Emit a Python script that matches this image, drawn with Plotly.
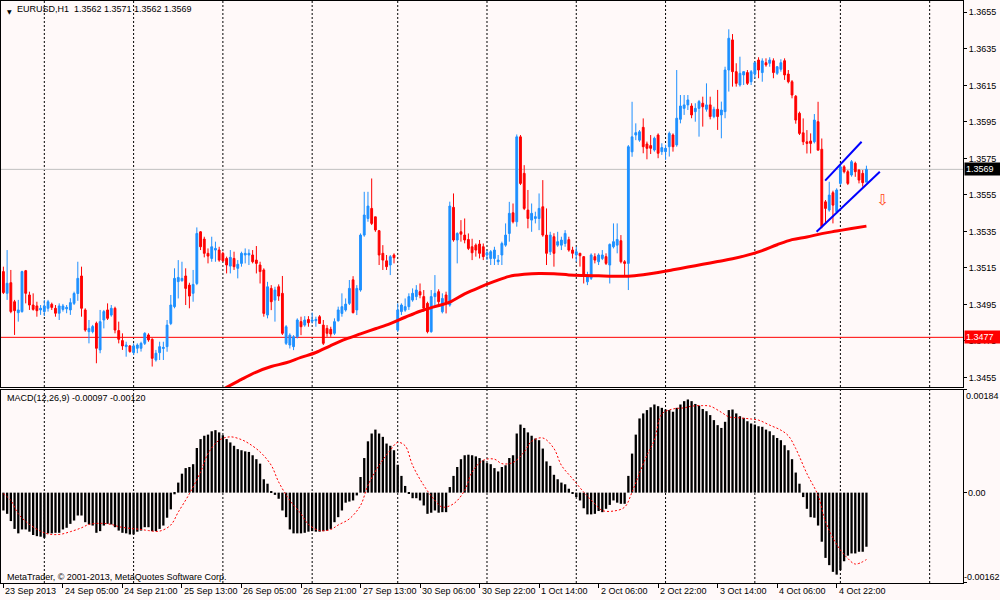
import plotly.graph_objects as go

# ------------------------------------------------------------------ data
bar_index = list(range(233))

open_ = [
    1.35130, 1.35011, 1.35069, 1.34965, 1.34905, 1.34911, 1.35135, 1.35002, 1.34947, 1.34942,
    1.34920, 1.34911, 1.34929, 1.34951, 1.34929, 1.34902, 1.34923, 1.34926, 1.34920, 1.34956,
    1.35010, 1.35106, 1.34920, 1.34801, 1.34801, 1.34847, 1.34701, 1.34865, 1.34920, 1.34892,
    1.34929, 1.34807, 1.34752, 1.34719, 1.34723, 1.34686, 1.34710, 1.34710, 1.34737, 1.34783,
    1.34759, 1.34646, 1.34686, 1.34709, 1.34719, 1.34846, 1.34938, 1.35075, 1.35080, 1.35106,
    1.35056, 1.35011, 1.35065, 1.35348, 1.35308, 1.35230, 1.35202, 1.35248, 1.35248, 1.35230,
    1.35202, 1.35160, 1.35202, 1.35148, 1.35175, 1.35221, 1.35221, 1.35221, 1.35193, 1.35166,
    1.35139, 1.34892, 1.35038, 1.34974, 1.35047, 1.35011, 1.34737, 1.34728, 1.34719, 1.34773,
    1.34856, 1.34837, 1.34868, 1.34858, 1.34861, 1.34883, 1.34837, 1.34819, 1.34814, 1.34792,
    1.34861, 1.34901, 1.34920, 1.34956, 1.35085, 1.34920, 1.35029, 1.35330, 1.35421, 1.35476,
    1.35430, 1.35354, 1.35230, 1.35189, 1.35166, 1.35221, 1.34810, 1.34911, 1.34919, 1.34938,
    1.34974, 1.34993, 1.35020, 1.34993, 1.34956, 1.34801, 1.34993, 1.35020, 1.34910, 1.35002,
    1.34947, 1.35482, 1.35303, 1.35348, 1.35330, 1.35306, 1.35266, 1.35275, 1.35281, 1.35266,
    1.35221, 1.35202, 1.35202, 1.35184, 1.35221, 1.35275, 1.35339, 1.35452, 1.35403, 1.35868,
    1.35668, 1.35467, 1.35412, 1.35421, 1.35421, 1.35485, 1.35330, 1.35239, 1.35321, 1.35275,
    1.35275, 1.35284, 1.35305, 1.35248, 1.35221, 1.35230, 1.35212, 1.35074, 1.35093, 1.35212,
    1.35184, 1.35202, 1.35212, 1.35166, 1.35266, 1.35275, 1.35299, 1.35184, 1.35175, 1.35786,
    1.35878, 1.35850, 1.35920, 1.35829, 1.35820, 1.35796, 1.35878, 1.35787, 1.35787, 1.35814,
    1.35878, 1.35824, 1.35964, 1.36024, 1.36043, 1.36037, 1.36006, 1.36024, 1.36052, 1.36019,
    1.36043, 1.35979, 1.36019, 1.35988, 1.36006, 1.36234, 1.36399, 1.36225, 1.36152, 1.36207,
    1.36220, 1.36170, 1.36212, 1.36289, 1.36220, 1.36274, 1.36271, 1.36285, 1.36216, 1.36238,
    1.36285, 1.36212, 1.36170, 1.36090, 1.35997, 1.35890, 1.35841, 1.35845, 1.35841, 1.35951,
    1.35800, 1.35512, 1.35467, 1.35562, 1.35458, 1.35613, 1.35704, 1.35677, 1.35659, 1.35723,
    1.35686, 1.35668, 1.35620,
]

high_ = [
    1.35157, 1.35248, 1.35139, 1.34975, 1.34975, 1.35135, 1.35139, 1.35020, 1.35011, 1.34965,
    1.34947, 1.34975, 1.34975, 1.34960, 1.34947, 1.34956, 1.34953, 1.34947, 1.34984, 1.35020,
    1.35184, 1.35157, 1.34929, 1.34865, 1.34838, 1.34856, 1.34920, 1.34920, 1.34956, 1.34947,
    1.34938, 1.34856, 1.34792, 1.34746, 1.34728, 1.34737, 1.34737, 1.34746, 1.34798, 1.34792,
    1.34765, 1.34701, 1.34746, 1.34746, 1.34865, 1.35002, 1.35148, 1.35193, 1.35184, 1.35148,
    1.35069, 1.35139, 1.35372, 1.35352, 1.35321, 1.35257, 1.35321, 1.35294, 1.35266, 1.35239,
    1.35212, 1.35248, 1.35239, 1.35193, 1.35239, 1.35257, 1.35252, 1.35248, 1.35270, 1.35184,
    1.35148, 1.35074, 1.35056, 1.35047, 1.35060, 1.35106, 1.34837, 1.34792, 1.34782, 1.34874,
    1.34883, 1.34886, 1.34886, 1.34905, 1.34883, 1.34892, 1.34865, 1.34837, 1.34828, 1.34874,
    1.34938, 1.35011, 1.34983, 1.35084, 1.35105, 1.35056, 1.35339, 1.35567, 1.35567, 1.35640,
    1.35430, 1.35358, 1.35275, 1.35221, 1.35221, 1.35230, 1.34956, 1.34956, 1.34983, 1.35011,
    1.35038, 1.35056, 1.35065, 1.35029, 1.34965, 1.35029, 1.35111, 1.35033, 1.35011, 1.35020,
    1.35513, 1.35558, 1.35345, 1.35412, 1.35421, 1.35339, 1.35310, 1.35284, 1.35303, 1.35284,
    1.35248, 1.35248, 1.35266, 1.35221, 1.35294, 1.35394, 1.35512, 1.35503, 1.35881, 1.35878,
    1.35713, 1.35577, 1.35503, 1.35458, 1.35558, 1.35631, 1.35476, 1.35348, 1.35340, 1.35348,
    1.35321, 1.35357, 1.35321, 1.35266, 1.35266, 1.35233, 1.35215, 1.35129, 1.35230, 1.35230,
    1.35230, 1.35248, 1.35230, 1.35284, 1.35394, 1.35394, 1.35330, 1.35193, 1.35823, 1.36060,
    1.35942, 1.35905, 1.35969, 1.35842, 1.35878, 1.35869, 1.35887, 1.35833, 1.35824, 1.35897,
    1.35887, 1.36234, 1.36097, 1.36097, 1.36097, 1.36052, 1.36052, 1.36070, 1.36088, 1.36161,
    1.36088, 1.36033, 1.36125, 1.36061, 1.36252, 1.36457, 1.36431, 1.36271, 1.36307, 1.36225,
    1.36234, 1.36234, 1.36280, 1.36304, 1.36298, 1.36298, 1.36304, 1.36298, 1.36256, 1.36293,
    1.36298, 1.36234, 1.36179, 1.36097, 1.36006, 1.35969, 1.35905, 1.35887, 1.35993, 1.36060,
    1.35859, 1.35522, 1.35622, 1.35573, 1.35586, 1.35713, 1.35713, 1.35686, 1.35741, 1.35732,
    1.35690, 1.35686, 1.35710,
]

low_ = [
    1.35007, 1.34975, 1.34902, 1.34783, 1.34856, 1.34905, 1.34956, 1.34920, 1.34916, 1.34883,
    1.34893, 1.34887, 1.34911, 1.34920, 1.34883, 1.34865, 1.34911, 1.34902, 1.34893, 1.34947,
    1.34970, 1.34883, 1.34801, 1.34737, 1.34792, 1.34628, 1.34683, 1.34819, 1.34865, 1.34883,
    1.34792, 1.34737, 1.34701, 1.34664, 1.34686, 1.34673, 1.34683, 1.34692, 1.34728, 1.34746,
    1.34610, 1.34637, 1.34646, 1.34646, 1.34691, 1.34837, 1.34929, 1.34983, 1.35075, 1.34947,
    1.34929, 1.34965, 1.35056, 1.35248, 1.35208, 1.35175, 1.35184, 1.35184, 1.35184, 1.35184,
    1.35120, 1.35120, 1.35139, 1.35093, 1.35157, 1.35175, 1.35166, 1.35175, 1.35120, 1.35065,
    1.34883, 1.34874, 1.34919, 1.34856, 1.34970, 1.34783, 1.34728, 1.34709, 1.34700, 1.34764,
    1.34782, 1.34828, 1.34828, 1.34846, 1.34828, 1.34846, 1.34728, 1.34773, 1.34773, 1.34783,
    1.34856, 1.34883, 1.34911, 1.34947, 1.34901, 1.34892, 1.35020, 1.35321, 1.35403, 1.35385,
    1.35348, 1.35166, 1.35139, 1.35139, 1.35111, 1.35175, 1.34800, 1.34892, 1.34910, 1.34920,
    1.34965, 1.34974, 1.34984, 1.34910, 1.34792, 1.34795, 1.34938, 1.34938, 1.34901, 1.34901,
    1.34938, 1.35294, 1.35175, 1.35294, 1.35285, 1.35248, 1.35193, 1.35212, 1.35202, 1.35193,
    1.35193, 1.35166, 1.35166, 1.35166, 1.35166, 1.35266, 1.35294, 1.35394, 1.35376, 1.35604,
    1.35467, 1.35367, 1.35348, 1.35394, 1.35357, 1.35321, 1.35166, 1.35221, 1.35157, 1.35266,
    1.35248, 1.35266, 1.35239, 1.35202, 1.35184, 1.35157, 1.35065, 1.35056, 1.35084, 1.35175,
    1.35166, 1.35193, 1.35166, 1.35065, 1.35257, 1.35230, 1.35175, 1.35111, 1.35029, 1.35759,
    1.35850, 1.35841, 1.35778, 1.35745, 1.35774, 1.35787, 1.35751, 1.35769, 1.35742, 1.35760,
    1.35787, 1.35814, 1.35942, 1.35988, 1.36015, 1.35970, 1.35951, 1.35869, 1.35924, 1.36006,
    1.35964, 1.35970, 1.35906, 1.35860, 1.35970, 1.36116, 1.36143, 1.36143, 1.36143, 1.36152,
    1.36152, 1.36152, 1.36189, 1.36189, 1.36170, 1.36252, 1.36252, 1.36189, 1.36207, 1.36225,
    1.36180, 1.36161, 1.36079, 1.35940, 1.35878, 1.35823, 1.35777, 1.35777, 1.35832, 1.35795,
    1.35367, 1.35394, 1.35458, 1.35394, 1.35449, 1.35604, 1.35668, 1.35604, 1.35650, 1.35649,
    1.35613, 1.35595, 1.35620,
]

close_ = [
    1.35015, 1.35066, 1.34911, 1.34916, 1.34920, 1.35130, 1.35011, 1.34947, 1.34923, 1.34916,
    1.34929, 1.34942, 1.34965, 1.34934, 1.34902, 1.34942, 1.34942, 1.34934, 1.34960, 1.35010,
    1.35093, 1.34929, 1.34810, 1.34819, 1.34829, 1.34710, 1.34856, 1.34911, 1.34874, 1.34929,
    1.34810, 1.34759, 1.34723, 1.34728, 1.34692, 1.34723, 1.34728, 1.34737, 1.34792, 1.34756,
    1.34655, 1.34683, 1.34719, 1.34715, 1.34837, 1.34947, 1.35093, 1.35098, 1.35093, 1.35038,
    1.34996, 1.35060, 1.35339, 1.35266, 1.35230, 1.35215, 1.35266, 1.35257, 1.35193, 1.35189,
    1.35166, 1.35208, 1.35157, 1.35170, 1.35230, 1.35230, 1.35230, 1.35184, 1.35175, 1.35130,
    1.34901, 1.35047, 1.34965, 1.35029, 1.34996, 1.34792, 1.34828, 1.34782, 1.34773, 1.34865,
    1.34828, 1.34865, 1.34850, 1.34865, 1.34868, 1.34846, 1.34737, 1.34792, 1.34788, 1.34856,
    1.34920, 1.34938, 1.34952, 1.35038, 1.34905, 1.35038, 1.35330, 1.35440, 1.35489, 1.35394,
    1.35358, 1.35221, 1.35193, 1.35157, 1.35212, 1.35206, 1.34920, 1.34947, 1.34938, 1.34993,
    1.35011, 1.35029, 1.35002, 1.34929, 1.34801, 1.34993, 1.35011, 1.34965, 1.34983, 1.34956,
    1.35489, 1.35303, 1.35339, 1.35335, 1.35303, 1.35257, 1.35233, 1.35248, 1.35230, 1.35212,
    1.35233, 1.35239, 1.35248, 1.35193, 1.35284, 1.35330, 1.35449, 1.35403, 1.35868, 1.35613,
    1.35476, 1.35421, 1.35449, 1.35431, 1.35476, 1.35330, 1.35230, 1.35330, 1.35230, 1.35294,
    1.35303, 1.35339, 1.35248, 1.35230, 1.35239, 1.35217, 1.35111, 1.35102, 1.35221, 1.35193,
    1.35221, 1.35221, 1.35175, 1.35279, 1.35294, 1.35306, 1.35184, 1.35175, 1.35814, 1.35868,
    1.35891, 1.35896, 1.35814, 1.35805, 1.35805, 1.35860, 1.35778, 1.35809, 1.35805, 1.35887,
    1.35814, 1.35970, 1.36037, 1.36043, 1.36070, 1.35988, 1.36024, 1.36061, 1.36033, 1.36043,
    1.35979, 1.36019, 1.35979, 1.36015, 1.36234, 1.36408, 1.36225, 1.36161, 1.36216, 1.36225,
    1.36161, 1.36225, 1.36274, 1.36234, 1.36284, 1.36262, 1.36289, 1.36220, 1.36252, 1.36274,
    1.36207, 1.36170, 1.36097, 1.35960, 1.35887, 1.35841, 1.35832, 1.35832, 1.35960, 1.35795,
    1.35376, 1.35476, 1.35549, 1.35494, 1.35577, 1.35704, 1.35677, 1.35613, 1.35732, 1.35677,
    1.35631, 1.35617, 1.35690,
]

# moving average (sampled along the bars)
ma_index = [58, 60, 64, 68, 72, 76, 80, 84, 88, 92, 96, 100, 104, 108, 112, 116, 120, 124,
            128, 132, 136, 140, 144, 148, 152, 156, 160, 164, 168, 172, 176, 180, 184, 188,
            192, 196, 200, 204, 208, 212, 216, 220, 224, 228, 232]
ma_value = [1.34475, 1.34496, 1.34540, 1.34580, 1.34610, 1.34631, 1.34660, 1.34687, 1.34725,
            1.34760, 1.34789, 1.34817, 1.34845, 1.34880, 1.34913, 1.34938, 1.34963, 1.35008,
            1.35044, 1.35076, 1.35104, 1.35115, 1.35120, 1.35118, 1.35112, 1.35109, 1.35107,
            1.35105, 1.35105, 1.35113, 1.35125, 1.35140, 1.35155, 1.35170, 1.35185, 1.35200,
            1.35220, 1.35245, 1.35277, 1.35305, 1.35320, 1.35338, 1.35352, 1.35366, 1.35379]

# MACD(12,26,9) histogram, one value per bar
macd_hist = [
    -0.00032, -0.00038, -0.00051, -0.00065, -0.00073, -0.00066, -0.00066, -0.00070, -0.00076, -0.00078,
    -0.00079, -0.00081, -0.00073, -0.00073, -0.00072, -0.00072, -0.00066, -0.00063, -0.00056, -0.00050,
    -0.00041, -0.00041, -0.00053, -0.00057, -0.00059, -0.00072, -0.00069, -0.00059, -0.00056, -0.00057,
    -0.00062, -0.00068, -0.00072, -0.00073, -0.00075, -0.00075, -0.00070, -0.00068, -0.00062, -0.00062,
    -0.00069, -0.00069, -0.00065, -0.00059, -0.00045, -0.00030, -0.00003, 0.00018, 0.00034, 0.00044,
    0.00046, 0.00051, 0.00080, 0.00096, 0.00102, 0.00104, 0.00110, 0.00112, 0.00108, 0.00103,
    0.00096, 0.00090, 0.00084, 0.00078, 0.00076, 0.00074, 0.00073, 0.00067, 0.00060, 0.00052,
    0.00024, 0.00016, 0.00002, -0.00004, -0.00011, -0.00032, -0.00044, -0.00066, -0.00073, -0.00073,
    -0.00073, -0.00072, -0.00070, -0.00069, -0.00070, -0.00070, -0.00069, -0.00068, -0.00065, -0.00053,
    -0.00044, -0.00032, -0.00018, -0.00016, -0.00014, -0.00005, 0.00028, 0.00062, 0.00092, 0.00106,
    0.00113, 0.00106, 0.00100, 0.00088, 0.00084, 0.00076, 0.00050, 0.00030, 0.00012, -0.00002,
    -0.00010, -0.00010, -0.00014, -0.00023, -0.00038, -0.00036, -0.00032, -0.00036, -0.00035, -0.00035,
    0.00010, 0.00030, 0.00046, 0.00060, 0.00067, 0.00068, 0.00067, 0.00065, 0.00062, 0.00058,
    0.00053, 0.00051, 0.00044, 0.00038, 0.00046, 0.00049, 0.00062, 0.00067, 0.00106, 0.00122,
    0.00116, 0.00108, 0.00102, 0.00097, 0.00094, 0.00079, 0.00056, 0.00048, 0.00032, 0.00024,
    0.00018, 0.00015, 0.00007, -0.00002, -0.00008, -0.00014, -0.00028, -0.00039, -0.00039, -0.00038,
    -0.00033, -0.00035, -0.00029, -0.00022, -0.00014, -0.00018, -0.00020, -0.00020, 0.00030, 0.00070,
    0.00104, 0.00133, 0.00142, 0.00148, 0.00153, 0.00158, 0.00155, 0.00152, 0.00149, 0.00148,
    0.00145, 0.00152, 0.00158, 0.00164, 0.00167, 0.00164, 0.00159, 0.00156, 0.00150, 0.00146,
    0.00139, 0.00130, 0.00121, 0.00116, 0.00127, 0.00148, 0.00149, 0.00142, 0.00137, 0.00134,
    0.00128, 0.00124, 0.00122, 0.00119, 0.00118, 0.00113, 0.00110, 0.00103, 0.00098, 0.00094,
    0.00085, 0.00076, 0.00060, 0.00036, 0.00016, -0.00008, -0.00029, -0.00044, -0.00045, -0.00059,
    -0.00088, -0.00117, -0.00130, -0.00142, -0.00147, -0.00139, -0.00123, -0.00113, -0.00109, -0.00109,
    -0.00106, -0.00106, -0.00097,
]

# MACD signal line (sampled)
signal_index = [0, 2, 4, 7, 10, 12, 15, 18, 21, 23, 26, 29, 31, 34, 37, 39, 42, 45, 47, 50,
                53, 55, 58, 61, 64, 66, 69, 72, 74, 77, 80, 82, 85, 88, 90, 93, 96, 98, 101,
                104, 106, 108, 110, 113, 116, 118, 121, 124, 126, 129, 132, 134, 137, 140, 142,
                145, 148, 150, 153, 156, 159, 161, 164, 167, 169, 171, 173, 175, 177, 180, 183,
                185, 188, 190, 193, 195, 198, 201, 203, 206, 209, 211, 213, 216, 219, 221, 224,
                227, 229, 232]
signal_value = [-0.00002, -0.00014, -0.00038, -0.00057, -0.00069, -0.00074, -0.00075, -0.00070,
                -0.00063, -0.00057, -0.00055, -0.00057, -0.00061, -0.00064, -0.00066, -0.00068,
                -0.00069, -0.00058, -0.00035, -0.00002, 0.00037, 0.00070, 0.00094, 0.00100,
                0.00095, 0.00088, 0.00073, 0.00049, 0.00019, -0.00014, -0.00038, -0.00057,
                -0.00068, -0.00066, -0.00058, -0.00047, -0.00023, 0.00013, 0.00049, 0.00076,
                0.00090, 0.00084, 0.00049, 0.00013, -0.00014, -0.00026, -0.00020, 0.00004,
                0.00037, 0.00058, 0.00060, 0.00052, 0.00054, 0.00073, 0.00092, 0.00098, 0.00079,
                0.00049, 0.00025, 0.00001, -0.00020, -0.00032, -0.00033, -0.00026, 0.00001,
                0.00035, 0.00067, 0.00094, 0.00141, 0.00150, 0.00152, 0.00155, 0.00156, 0.00155,
                0.00144, 0.00136, 0.00134, 0.00132, 0.00130, 0.00121, 0.00112, 0.00102, 0.00079,
                0.00034, -0.00005, -0.00052, -0.00093, -0.00118, -0.00128, -0.00120]

# time axis
day_start_index = [11, 35, 59, 83, 106, 130, 154, 178, 202, 225, 249]
time_tick_index = [0, 16, 32, 48, 64, 80, 96, 112, 128, 144, 160, 176, 192, 208, 224]
time_tick_text = ["23 Sep 2013", "24 Sep 05:00", "24 Sep 21:00", "25 Sep 13:00",
                  "26 Sep 05:00", "26 Sep 21:00", "27 Sep 13:00", "30 Sep 06:00",
                  "30 Sep 22:00", "1 Oct 14:00", "2 Oct 06:00", "2 Oct 22:00",
                  "3 Oct 14:00", "4 Oct 06:00", "4 Oct 22:00"]

price_ticks = [1.3455, 1.3475, 1.3495, 1.3515, 1.3535, 1.3555, 1.3575, 1.3595, 1.3615,
               1.3635, 1.3655]
macd_ticks = [0.00184, 0.0, -0.00162]
macd_tick_text = ["0.00184", "0.00", "-0.00162"]

# objects drawn on the chart
channel_upper_index = [220.9, 230.7]
channel_upper_price = [1.35628, 1.35841]
channel_lower_index = [218.6, 235.6]
channel_lower_price = [1.35348, 1.35677]
arrow_index = [236.4]
arrow_price = [1.35513]

bid_price = 1.3569
level_price = 1.3477

header_text = "EURUSD,H1\u00a0\u00a01.3562 1.3571 1.3562 1.3569"
macd_text = "MACD(12,26,9) -0.00097 -0.00120"
copyright_text = "MetaTrader, \u00a9 2001-2013, MetaQuotes Software Corp."

# ------------------------------------------------------------------ style
BG = "#FFF9F9"
BLUE = "#1E90FF"
RED = "#FF0000"
FONT = "Liberation Sans, Arial, sans-serif"
W, H = 1000, 600
ML, MR, MT, MB = 1, 37, 1, 17
X_RANGE = [-0.645, 257.96]
Y_RANGE = [1.34498, 1.36612]
M_RANGE = [-0.00162, 0.00184]
MAIN_DOMAIN = [0.33677, 1.0]
MACD_DOMAIN = [0.0, 0.33162]

fig = go.Figure()

fig.add_trace(go.Candlestick(
    x=bar_index, open=open_, high=high_, low=low_, close=close_,
    increasing=dict(line=dict(color=BLUE, width=1), fillcolor=BLUE),
    decreasing=dict(line=dict(color=RED, width=1), fillcolor=RED),
    whiskerwidth=0, xaxis="x", yaxis="y", hoverinfo="skip", showlegend=False))

fig.add_trace(go.Scatter(
    x=ma_index, y=ma_value, mode="lines", xaxis="x", yaxis="y",
    line=dict(color=RED, width=3, shape="spline"), hoverinfo="skip", showlegend=False))

for xs, ys in ((channel_upper_index, channel_upper_price),
               (channel_lower_index, channel_lower_price)):
    fig.add_trace(go.Scatter(
        x=xs, y=ys, mode="lines", xaxis="x", yaxis="y",
        line=dict(color="#0000FF", width=2), hoverinfo="skip", showlegend=False))

fig.add_trace(go.Scatter(
    x=arrow_index, y=arrow_price, mode="text", text=["\u21e9"], xaxis="x", yaxis="y",
    textfont=dict(family="DejaVu Sans", size=15, color="#FF4A1A"),
    hoverinfo="skip", showlegend=False))

fig.add_trace(go.Bar(
    x=bar_index, y=macd_hist, width=0.62, xaxis="x2", yaxis="y2",
    marker=dict(color="#000000", line=dict(width=0)), hoverinfo="skip", showlegend=False))

fig.add_trace(go.Scatter(
    x=signal_index, y=signal_value, mode="lines", xaxis="x2", yaxis="y2",
    line=dict(color=RED, width=1, dash="2px,2px", shape="spline"),
    hoverinfo="skip", showlegend=False))

axis_common = dict(showgrid=False, zeroline=False, showline=True, mirror=True,
                   linecolor="#000000", linewidth=1)

shapes = []
for d in day_start_index:
    for xr, yr in (("x", "y domain"), ("x2", "y2 domain")):
        shapes.append(dict(type="line", xref=xr, yref=yr, x0=d, x1=d, y0=0, y1=1,
                           line=dict(color="#000000", width=1, dash="2px,2px"), layer="below"))
shapes.append(dict(type="line", xref="x domain", yref="y", x0=0, x1=1, y0=bid_price, y1=bid_price,
                   line=dict(color="#C0C0C0", width=1), layer="below"))
shapes.append(dict(type="line", xref="x domain", yref="y", x0=0, x1=1, y0=level_price,
                   y1=level_price, line=dict(color=RED, width=1), layer="below"))

small = dict(family=FONT, size=9, color="#000000")
annotations = [
    dict(xref="paper", yref="paper", x=0, y=1, xanchor="left", yanchor="top", xshift=4, yshift=-5,
         text="\u25bc", showarrow=False, font=dict(family="DejaVu Sans", size=6, color="#000000")),
    dict(xref="paper", yref="paper", x=0, y=1, xanchor="left", yanchor="top", xshift=15, yshift=-2,
         text=header_text, showarrow=False, font=small, borderpad=0),
    dict(xref="paper", yref="y2 domain", x=0, y=1, xanchor="left", yanchor="top", xshift=5,
         yshift=-2, text=macd_text, showarrow=False, font=small, borderpad=0),
    dict(xref="paper", yref="paper", x=0, y=0, xanchor="left", yanchor="bottom", xshift=5,
         yshift=0, text=copyright_text, showarrow=False, font=small, borderpad=0),
    dict(xref="paper", yref="y", x=1, y=bid_price, xanchor="left", yanchor="middle", xshift=1,
         text="1.3569", showarrow=False, font=dict(family=FONT, size=9, color="#FFFFFF"),
         bgcolor="#000000", borderpad=1, width=33, align="left"),
    dict(xref="paper", yref="y", x=1, y=level_price, xanchor="left", yanchor="middle", xshift=1,
         text="1.3477", showarrow=False, font=dict(family=FONT, size=9, color="#FFFFFF"),
         bgcolor=RED, borderpad=1, width=33, align="left"),
]
for v, t, ya, xs in zip(macd_ticks, macd_tick_text, ("top", "middle", "bottom"), (2, 4, 0)):
    annotations.append(dict(xref="paper", yref="y2", x=1, y=v, xanchor="left", yanchor=ya,
                            xshift=xs, text=t, showarrow=False, font=small, borderpad=0))
for i, t in zip(time_tick_index, time_tick_text):
    annotations.append(dict(xref="x2", yref="paper", x=i, y=0, xanchor="left", yanchor="top",
                            xshift=1, yshift=-2, text=t, showarrow=False, font=small,
                            borderpad=0))

fig.update_layout(
    width=W, height=H, margin=dict(l=ML, r=MR, t=MT, b=MB),
    paper_bgcolor=BG, plot_bgcolor=BG, showlegend=False, hovermode=False,
    xaxis=dict(domain=[0, 1], range=X_RANGE, anchor="y", showticklabels=False, ticks="",
               rangeslider=dict(visible=False), **axis_common),
    yaxis=dict(domain=MAIN_DOMAIN, range=Y_RANGE, anchor="x", side="right",
               tickvals=price_ticks, ticktext=[f"{v:.4f}" for v in price_ticks],
               ticks="outside", ticklen=3, tickcolor="#000000", tickfont=small, **axis_common),
    xaxis2=dict(domain=[0, 1], range=X_RANGE, anchor="y2", showticklabels=False,
                tickvals=time_tick_index, ticks="outside", ticklen=4, tickcolor="#000000",
                **axis_common),
    yaxis2=dict(domain=MACD_DOMAIN, range=M_RANGE, anchor="x2", side="right",
                tickvals=macd_ticks, showticklabels=False, ticks="outside", ticklen=3,
                tickcolor="#000000", **axis_common),
    shapes=shapes, annotations=annotations,
)

fig.write_html(
    "out.html",
    config={"displayModeBar": False},
    post_script="document.body.style.margin='0';document.body.style.padding='0';"
                "document.body.style.overflow='hidden';"
                "document.body.style.background='" + BG + "';",
)
